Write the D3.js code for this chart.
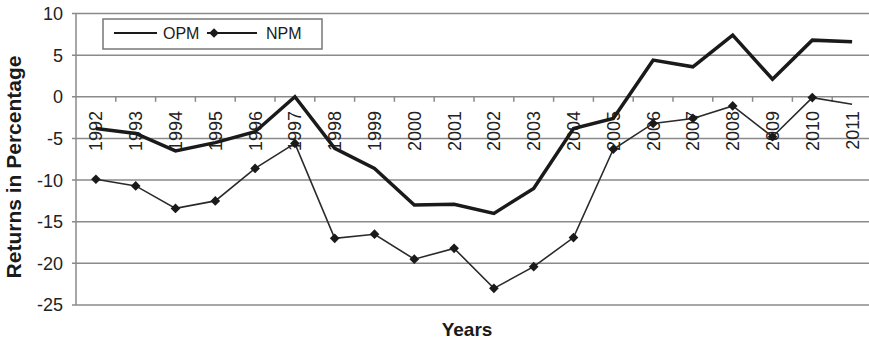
<!DOCTYPE html>
<html>
<head>
<meta charset="utf-8">
<script src="https://cdn.jsdelivr.net/npm/d3@7"></script>
<style>
  html, body { margin: 0; padding: 0; background: #fff; }
  svg { display: block; font-family: "Liberation Sans", Arial, sans-serif; }
</style>
</head>
<body>
<svg id="chart" width="869" height="341"></svg>
<script>
// Yearly returns (%) for the two measures
const years = ["1992","1993","1994","1995","1996","1997","1998","1999","2000","2001",
               "2002","2003","2004","2005","2006","2007","2008","2009","2010","2011"];
const opm = [-3.8, -4.4, -6.5, -5.5, -4.2, 0.0, -6.2, -8.6, -13.0, -12.9,
             -14.0, -11.0, -3.8, -2.6, 4.4, 3.6, 7.4, 2.1, 6.8, 6.6];
const npm = [-9.9, -10.7, -13.4, -12.5, -8.6, -5.6, -17.0, -16.5, -19.5, -18.2,
             -23.0, -20.4, -16.9, -6.3, -3.2, -2.6, -1.1, -4.8, -0.1, -0.9];
const yTicks = [10, 5, 0, -5, -10, -15, -20, -25];
const seriesNames = ["OPM", "NPM"];

const svg = d3.select("#chart");
const plotL = 76, plotR = 872, plotT = 13.5, plotB = 305;

const x = d3.scaleBand().domain(years).range([plotL, plotR]).padding(0);
const y = d3.scaleLinear().domain([-25, 10]).range([plotB, plotT]);
const cx = d => x(d) + x.bandwidth() / 2;

// horizontal gridlines with outward ticks on the value axis
const grid = svg.append("g");
grid.selectAll("line.grid").data(yTicks).join("line")
  .attr("x1", plotL - 4).attr("x2", plotR)
  .attr("y1", d => y(d)).attr("y2", d => y(d))
  .attr("stroke", "#8a8a8a").attr("stroke-width", 1.5);

// value axis line
svg.append("line")
  .attr("x1", plotL).attr("x2", plotL).attr("y1", plotT).attr("y2", plotB)
  .attr("stroke", "#8a8a8a").attr("stroke-width", 1.5);

// value tick labels
svg.append("g").selectAll("text").data(yTicks).join("text")
  .attr("x", 63).attr("y", d => y(d)).attr("dy", "0.36em")
  .attr("text-anchor", "end").attr("font-size", 18).attr("fill", "#222")
  .text(d => d);

// category ticks on the zero line, between the years
const bounds = years.map(d => x(d)).concat([x(years[years.length - 1]) + x.bandwidth()]);
svg.append("g").selectAll("line").data(bounds.slice(1)).join("line")
  .attr("x1", d => d).attr("x2", d => d)
  .attr("y1", y(0)).attr("y2", y(0) + 5)
  .attr("stroke", "#8a8a8a").attr("stroke-width", 1.5);

// rotated year labels
svg.append("g").selectAll("text").data(years).join("text")
  .attr("transform", d => `translate(${cx(d)},111) rotate(-90)`)
  .attr("dy", "0.36em").attr("text-anchor", "end")
  .attr("font-size", 18).attr("fill", "#222")
  .text(d => d);

// series lines
const line = d3.line().x((d, i) => cx(years[i])).y(d => y(d));
svg.append("path").datum(opm).attr("d", line)
  .attr("fill", "none").attr("stroke", "#1a1a1a").attr("stroke-width", 3.5)
  .attr("stroke-linejoin", "miter");
svg.append("path").datum(npm).attr("d", line)
  .attr("fill", "none").attr("stroke", "#2a2a2a").attr("stroke-width", 1.6);

// diamond markers for NPM
const diamond = d3.symbol().type(d3.symbolDiamond2).size(60);
svg.append("g").selectAll("path").data(npm.slice(0, -1)).join("path")
  .attr("transform", (d, i) => `translate(${cx(years[i])},${y(d)})`)
  .attr("d", diamond).attr("fill", "#1a1a1a");

// axis titles
svg.append("text")
  .attr("transform", "translate(21,167) rotate(-90)")
  .attr("text-anchor", "middle").attr("font-size", 21).attr("font-weight", "bold")
  .attr("fill", "#1a1a1a").text("Returns in Percentage");
svg.append("text")
  .attr("x", 467).attr("y", 336).attr("text-anchor", "middle")
  .attr("font-size", 19).attr("font-weight", "bold").attr("fill", "#1a1a1a")
  .text("Years");

// legend
const lg = svg.append("g");
lg.append("rect").attr("x", 103).attr("y", 19).attr("width", 219).attr("height", 30)
  .attr("fill", "#fff").attr("stroke", "#777").attr("stroke-width", 1.5);
lg.append("line").attr("x1", 114).attr("x2", 157).attr("y1", 33).attr("y2", 33)
  .attr("stroke", "#1a1a1a").attr("stroke-width", 2.2);
lg.append("text").attr("x", 163).attr("y", 33).attr("dy", "0.36em")
  .attr("font-size", 16).attr("fill", "#1a1a1a").text(seriesNames[0]);
lg.append("line").attr("x1", 207).attr("x2", 257).attr("y1", 33).attr("y2", 33)
  .attr("stroke", "#1a1a1a").attr("stroke-width", 2);
lg.append("path").attr("transform", "translate(214,33)").attr("d", diamond).attr("fill", "#1a1a1a");
lg.append("text").attr("x", 266).attr("y", 33).attr("dy", "0.36em")
  .attr("font-size", 16).attr("fill", "#1a1a1a").text(seriesNames[1]);
</script>
</body>
</html>
